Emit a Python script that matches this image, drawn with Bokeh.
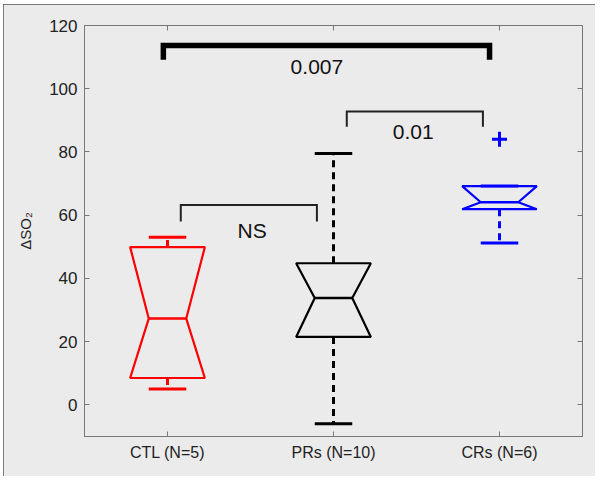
from bokeh.plotting import figure
from bokeh.models import FixedTicker, LinearAxis
from bokeh.core.properties import value
from bokeh.embed import file_html
from bokeh.resources import INLINE

# ---- data ----
categories = ["CTL (N=5)", "PRs (N=10)", "CRs (N=6)"]
positions = [1, 2, 3]
q1 = [8.5, 21.5, 61.9]
median = [27.3, 33.8, 64.1]
q3 = [49.9, 44.8, 69.2]
whisker_lo = [5.0, -6.0, 51.2]
whisker_hi = [53.0, 79.5, 69.2]
colors = ["#ff0000", "#000000", "#0000ff"]
outlier_x = [3]
outlier_y = [84.0]

# significance brackets
bracket_x0 = [1.08, 2.08, 0.975]
bracket_x1 = [1.90, 2.90, 2.94]
bracket_y = [63.2, 92.8, 113.7]
bracket_drop = [5.2, 4.8, 4.5]
bracket_label = ["NS", "0.01", "0.007"]
label_x = [1.51, 2.48, 1.90]
label_y = [55.3, 86.2, 107.0]
y_ticks = [0, 20, 40, 60, 80, 100, 120]

BG = "#ebebeb"
AX = "#777777"
FONT = "Liberation Sans"

p = figure(width=592, height=472, x_range=(0.5, 3.5), y_range=(-10, 120),
           output_backend="svg", toolbar_location=None,
           background_fill_color=BG, border_fill_color=BG,
           min_border_left=81, min_border_top=21, min_border_right=13,
           min_border_bottom=40)
p.styles = {"outline": "2px solid #555555", "outline-offset": "-2px",
            "margin-left": "3px", "margin-top": "4px"}
p.grid.visible = False
p.outline_line_color = AX

# axes
p.xaxis.ticker = FixedTicker(ticks=positions)
p.xaxis.major_label_overrides = {pos: c for pos, c in zip(positions, categories)}
p.yaxis.ticker = FixedTicker(ticks=y_ticks)
for ax in (p.xaxis[0], p.yaxis[0]):
    ax.axis_line_color = AX
    ax.major_tick_line_color = AX
    ax.major_tick_in = 5
    ax.major_tick_out = 0
    ax.minor_tick_line_color = None
    ax.major_label_text_font = FONT
    ax.major_label_text_font_size = "16px"
    ax.major_label_text_color = "#222222"
    ax.major_label_standoff = 7
p.yaxis.major_label_text_font_size = "17px"
p.yaxis.axis_label = "ΔSO₂"
p.yaxis.axis_label_text_font = FONT
p.yaxis.axis_label_text_font_size = "15px"
p.yaxis.axis_label_text_font_style = "normal"
p.yaxis.axis_label_text_color = "#222222"
p.yaxis.axis_label_standoff = 12

top = LinearAxis(ticker=FixedTicker(ticks=positions), major_tick_in=5, major_tick_out=0,
                 major_label_text_font_size="8px", major_label_text_color=None,
                 major_label_standoff=0,
                 axis_line_color=AX, major_tick_line_color=AX, minor_tick_line_color=None)
right = LinearAxis(ticker=FixedTicker(ticks=y_ticks), major_tick_in=5, major_tick_out=0,
                   major_label_text_font_size="8px", major_label_text_color=None,
                   major_label_standoff=0,
                   axis_line_color=AX, major_tick_line_color=AX, minor_tick_line_color=None)
p.add_layout(top, "above")
p.add_layout(right, "right")

# notched boxes
w = 0.225
nw = 0.113
xs, ys = [], []
for x, a, m, b in zip(positions, q1, median, q3):
    xs.append([x - w, x + w, x + nw, x + w, x - w, x - nw])
    ys.append([b, b, m, a, a, m])
p.patches(xs, ys, fill_color=None, line_color=colors, line_width=2.2)
p.segment(x0=[x - nw for x in positions], y0=median, x1=[x + nw for x in positions],
          y1=median, line_color=colors, line_width=2.5)

# whiskers
p.segment(x0=positions, y0=q3, x1=positions, y1=whisker_hi, line_color=colors,
          line_width=3, line_dash="7 5")
p.segment(x0=positions, y0=q1, x1=positions, y1=whisker_lo, line_color=colors,
          line_width=3, line_dash="7 5")
p.segment(x0=[x - nw for x in positions], y0=whisker_hi, x1=[x + nw for x in positions],
          y1=whisker_hi, line_color=colors, line_width=3)
p.segment(x0=[x - nw for x in positions], y0=whisker_lo, x1=[x + nw for x in positions],
          y1=whisker_lo, line_color=colors, line_width=3)

# outlier
p.scatter(outlier_x, outlier_y, marker="cross", size=15, line_color="#0000ff",
          line_width=3)

# brackets
bxs = [[a, a, b, b] for a, b in zip(bracket_x0, bracket_x1)]
bys = [[y - d, y, y, y - d] for y, d in zip(bracket_y, bracket_drop)]
p.multi_line(bxs, bys, line_color=["#222222", "#222222", "#000000"],
             line_width=[2, 2, 5.5], line_join="miter")
p.text(x=label_x, y=label_y, text=bracket_label, text_font=value(FONT),
       text_font_size="21px", text_align="center", text_baseline="middle",
       text_color="#111111")

open("out.html", "w").write(file_html(p, INLINE))
